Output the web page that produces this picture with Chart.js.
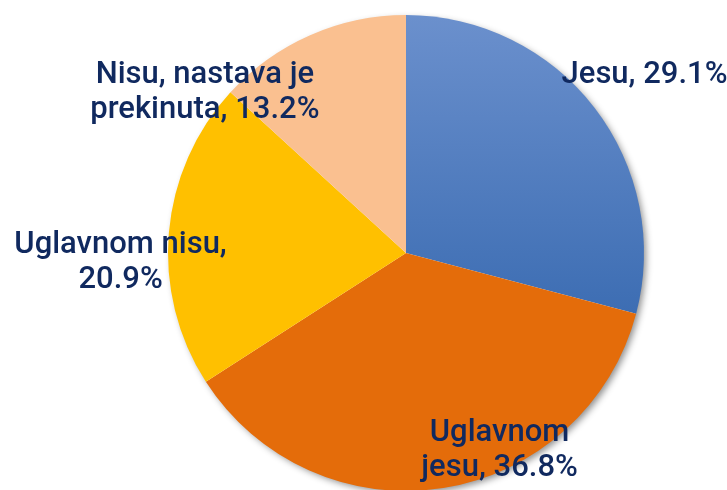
<!DOCTYPE html>
<html>
<head>
<meta charset="utf-8">
<script src="https://cdn.jsdelivr.net/npm/chart.js@4"></script>
<style>
  html, body { margin: 0; padding: 0; background: #fff; overflow: hidden; }
  #wrap { width: 727px; height: 500px; }
</style>
</head>
<body>
<div id="wrap"><canvas id="pie"></canvas></div>
<script>
const categories = ["Jesu", "Uglavnom jesu", "Uglavnom nisu", "Nisu, nastava je prekinuta"];
const shares = [29.1, 36.8, 20.9, 13.2];
const labelLines = [
  ["Jesu, 29.1%"],
  ["Uglavnom", "jesu, 36.8%"],
  ["Uglavnom nisu,", "20.9%"],
  ["Nisu, nastava je", "prekinuta, 13.2%"],
];

// label placement: angle from 12 o'clock (deg) and distance in radii
const labelAngle = [53.3, 154.7, 268, 308.5];
const labelDist = [1.25, 0.92, 1.2, 1.08];

const sliceColors = ["#4a7bbf", "#e46c0a", "#ffc000", "#fac090"];

function sliceFill(context) {
  const i = context.dataIndex;
  if (i !== 0) return sliceColors[i];
  const chart = context.chart;
  const area = chart.chartArea;
  if (!area) return sliceColors[0];
  const g = chart.ctx.createLinearGradient(0, area.top, 0, area.top + area.height * 0.65);
  g.addColorStop(0, "#6b90cd");
  g.addColorStop(1, "#3b6cb2");
  return g;
}

const pieShadow = {
  id: "pieShadow",
  beforeDatasetsDraw(chart) {
    const arc = chart.getDatasetMeta(0).data[0];
    if (!arc) return;
    const ctx = chart.ctx;
    ctx.save();
    ctx.shadowColor = "rgba(0,0,0,0.45)";
    ctx.shadowBlur = 7;
    ctx.shadowOffsetX = 3;
    ctx.shadowOffsetY = 3;
    ctx.fillStyle = "#fff";
    ctx.beginPath();
    ctx.arc(arc.x, arc.y, arc.outerRadius - 1, 0, Math.PI * 2);
    ctx.fill();
    ctx.restore();
  },
};

const sliceLabels = {
  id: "sliceLabels",
  afterDatasetsDraw(chart) {
    const arc = chart.getDatasetMeta(0).data[0];
    if (!arc) return;
    const ctx = chart.ctx;
    ctx.save();
    ctx.font = "500 31px Roboto, 'DejaVu Sans', sans-serif";
    ctx.fillStyle = "#10295f";
    ctx.textAlign = "center";
    ctx.textBaseline = "middle";
    const lh = 35;
    labelLines.forEach((lines, i) => {
      const a = labelAngle[i] * Math.PI / 180;
      const cx = arc.x + Math.sin(a) * arc.outerRadius * labelDist[i];
      const cy = arc.y - Math.cos(a) * arc.outerRadius * labelDist[i];
      const top = cy - (lines.length - 1) * lh / 2;
      lines.forEach((t, j) => ctx.fillText(t, cx, top + j * lh));
    });
    ctx.restore();
  },
};

new Chart(document.getElementById("pie"), {
  type: "pie",
  data: {
    labels: categories,
    datasets: [{
      data: shares,
      backgroundColor: sliceFill,
      borderWidth: 0,
    }],
  },
  options: {
    responsive: true,
    maintainAspectRatio: false,
    animation: false,
    layout: { padding: { top: 15, bottom: 9, left: 168, right: 83 } },
    plugins: {
      legend: { display: false },
      tooltip: { enabled: false },
    },
  },
  plugins: [pieShadow, sliceLabels],
});
</script>
</body>
</html>
